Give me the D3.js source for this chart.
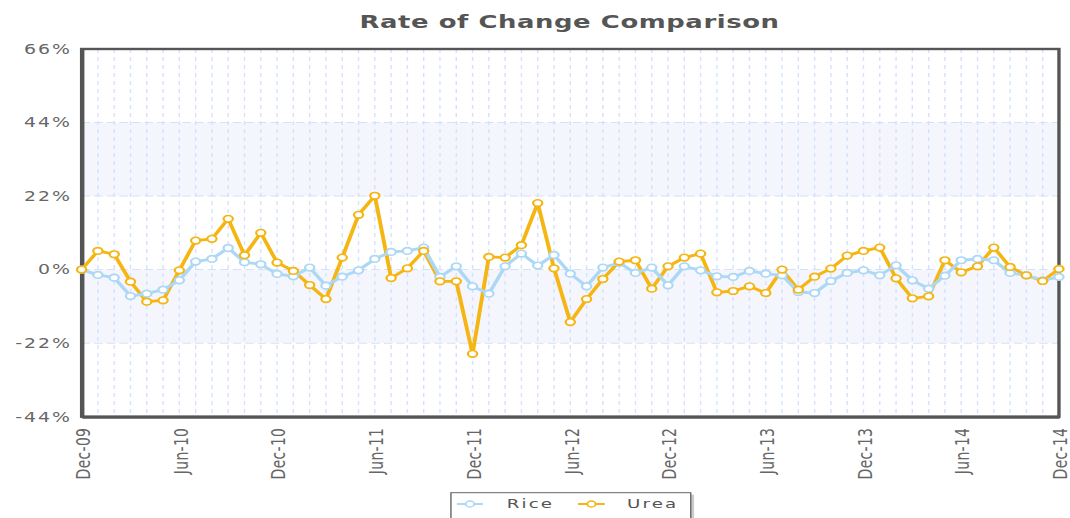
<!DOCTYPE html>
<html>
<head>
<meta charset="utf-8">
<script src="https://cdn.jsdelivr.net/npm/d3@7/dist/d3.min.js"></script>
<style>
  html, body { margin: 0; padding: 0; background: #fff; }
  svg { display: block; }
  text { font-family: "DejaVu Sans", Verdana, sans-serif; }
</style>
</head>
<body>
<svg id="chart"></svg>
<script>
// 数据：2009年12月至2014年12月的月度变化率（%）
const seriesNames = ['Rice', 'Urea'];
const rice = [0, -1.6, -2.4, -7.9, -7.2, -6.0, -3.2, 2.4, 3.2, 6.5, 2.2, 1.6, -1.3, -2.0, 0.6, -4.8,
  -2.1, -0.2, 3.2, 5.3, 5.6, 6.6, -2.2, 1.0, -5.0, -7.2, 1.0, 4.8, 1.2, 4.4, -1.2,
  -5.0, 0.6, 2.0, -1.0, 0.6, -4.7, 1.0, -0.2, -2.0, -2.2, -0.4, -1.2, -1.7, -6.7, -7.0,
  -3.4, -1.0, -0.2, -1.7, 1.3, -3.2, -5.7, -1.8, 2.8, 3.2, 2.8, -1.0, -1.7, -3.2, -2.2];
const urea = [0, 5.6, 4.6, -3.6, -9.6, -9.2, -0.2, 8.7, 9.2, 15.2, 4.3, 11.0, 2.1, -0.4, -4.6, -8.8,
  3.6, 16.4, 22.1, -2.5, 0.4, 5.6, -3.5, -3.5, -25.2, 3.8, 3.6, 7.3, 19.9, 0.4, -15.7,
  -8.8, -2.8, 2.4, 2.8, -5.7, 1.0, 3.6, 4.8, -6.8, -6.4, -5.0, -7.0, 0.0, -6.0, -2.1,
  0.3, 4.2, 5.6, 6.6, -2.6, -8.6, -8.0, 2.8, -0.8, 1.0, 6.6, 0.8, -1.7, -3.4, 0.2];
const xTickLabels = ['Dec-09', 'Jun-10', 'Dec-10', 'Jun-11', 'Dec-11', 'Jun-12',
  'Dec-12', 'Jun-13', 'Dec-13', 'Jun-14', 'Dec-14'];
const yTicks = [-44, -22, 0, 22, 44, 66];

// 配置（原图横向拉伸，用 viewBox 复现）
const config = {
  sx: 1.4,
  height: 518,
  plot: { left: 58.3, right: 756.4, top: 49, bottom: 416.7 },
  colors: { rice: '#acd8f6', urea: '#f5b512', grid: '#d3e2fa', band: '#f5f6fd', text: '#666', frame: '#555' }
};
const W = 1070 / config.sx;
const P = config.plot;
const C = config.colors;

const svg = d3.select('#chart')
  .attr('width', 1070)
  .attr('height', config.height)
  .attr('viewBox', `0 0 ${W} ${config.height}`)
  .attr('preserveAspectRatio', 'none');

const x = d3.scaleLinear().domain([0, urea.length - 1]).range([P.left, P.right]);
const y = d3.scaleLinear().domain([-44, 66]).range([P.bottom, P.top]);

// 标题
svg.append('text')
  .attr('x', 406.8).attr('y', 28)
  .attr('text-anchor', 'middle')
  .attr('font-size', 18.5).attr('font-weight', 'bold')
  .attr('letter-spacing', 0.4)
  .attr('fill', '#555')
  .text('Rate of Change Comparison');

// 背景色带
const bands = [[22, 44], [-22, 0]];
svg.append('g').selectAll('rect').data(bands).join('rect')
  .attr('x', P.left).attr('width', P.right - P.left)
  .attr('y', d => y(d[1])).attr('height', d => y(d[0]) - y(d[1]))
  .attr('fill', C.band);

// 网格线
svg.append('g').selectAll('line').data(d3.range(urea.length)).join('line')
  .attr('x1', d => x(d)).attr('x2', d => x(d))
  .attr('y1', P.top).attr('y2', P.bottom)
  .attr('stroke', C.grid).attr('stroke-width', 1)
  .attr('stroke-dasharray', '4,4');

svg.append('g').selectAll('line').data(yTicks.slice(1, -1)).join('line')
  .attr('x1', P.left).attr('x2', P.right)
  .attr('y1', d => y(d)).attr('y2', d => y(d))
  .attr('stroke', C.grid).attr('stroke-width', 1)
  .attr('stroke-dasharray', '6,3');

// 边框
svg.append('rect')
  .attr('x', P.left).attr('y', P.top)
  .attr('width', P.right - P.left).attr('height', P.bottom - P.top)
  .attr('fill', 'none').attr('stroke', C.frame).attr('stroke-width', 2.4);

// 坐标轴
const yAxis = svg.append('g')
  .attr('transform', `translate(${P.left},0)`)
  .call(d3.axisLeft(y).tickValues(yTicks).tickSize(0).tickPadding(7).tickFormat(d => d + '%'));
yAxis.select('.domain').attr('stroke', C.frame).attr('stroke-width', 3);
yAxis.selectAll('text')
  .attr('font-size', 13.5).attr('letter-spacing', 1.4)
  .attr('fill', C.text).attr('font-family', '"DejaVu Sans", Verdana, sans-serif');

const xAxis = svg.append('g')
  .attr('transform', `translate(0,${P.bottom})`)
  .call(d3.axisBottom(x)
    .tickValues(xTickLabels.map((d, i) => i * 6))
    .tickSize(0)
    .tickFormat((d, i) => xTickLabels[i]));
xAxis.select('.domain').attr('stroke', C.frame).attr('stroke-width', 3);
xAxis.selectAll('text')
  .attr('font-size', 14).attr('letter-spacing', 0.3)
  .attr('fill', C.text).attr('font-family', '"DejaVu Sans", Verdana, sans-serif')
  .attr('text-anchor', 'end')
  .attr('transform', 'translate(0.5,11) rotate(-90)')
  .attr('x', 0).attr('y', 0).attr('dy', '0.35em');

// 折线与节点
const line = d3.line().x((d, i) => x(i)).y(d => y(d));
const series = [
  { name: seriesNames[0], values: rice, color: C.rice },
  { name: seriesNames[1], values: urea, color: C.urea }
];

const lines = svg.append('g');
[series[1], series[0]].forEach(s => {
  lines.append('path')
    .datum(s.values)
    .attr('d', line)
    .attr('fill', 'none')
    .attr('stroke', s.color)
    .attr('stroke-width', 2.8)
    .attr('stroke-linejoin', 'round');
});

series.forEach(s => {
  svg.append('g').selectAll('circle').data(s.values).join('circle')
    .attr('cx', (d, i) => x(i))
    .attr('cy', d => y(d))
    .attr('r', 3.3)
    .attr('fill', '#fff')
    .attr('stroke', s.color)
    .attr('stroke-width', 1.6);
});

// 图例
const legend = svg.append('g');
legend.append('rect')
  .attr('x', 324.5).attr('y', 494.7)
  .attr('width', 171.3).attr('height', 30)
  .attr('fill', '#ccc');
legend.append('rect')
  .attr('x', 322.1).attr('y', 492.7)
  .attr('width', 171.3).attr('height', 30)
  .attr('fill', '#fff').attr('stroke', '#666').attr('stroke-width', 1);

const legendItems = [
  { s: series[0], x1: 326.4, x2: 345, tx: 362 },
  { s: series[1], x1: 412.9, x2: 432, tx: 447.9 }
];
legendItems.forEach(it => {
  legend.append('line')
    .attr('x1', it.x1).attr('x2', it.x2)
    .attr('y1', 504).attr('y2', 504)
    .attr('stroke', it.s.color).attr('stroke-width', 2);
  legend.append('circle')
    .attr('cx', (it.x1 + it.x2) / 2).attr('cy', 504).attr('r', 3)
    .attr('fill', '#fff').attr('stroke', it.s.color).attr('stroke-width', 1.4);
  legend.append('text')
    .attr('x', it.tx).attr('y', 508.5)
    .attr('font-size', 13).attr('letter-spacing', 1.5)
    .attr('fill', '#555')
    .text(it.s.name);
});
</script>
</body>
</html>
